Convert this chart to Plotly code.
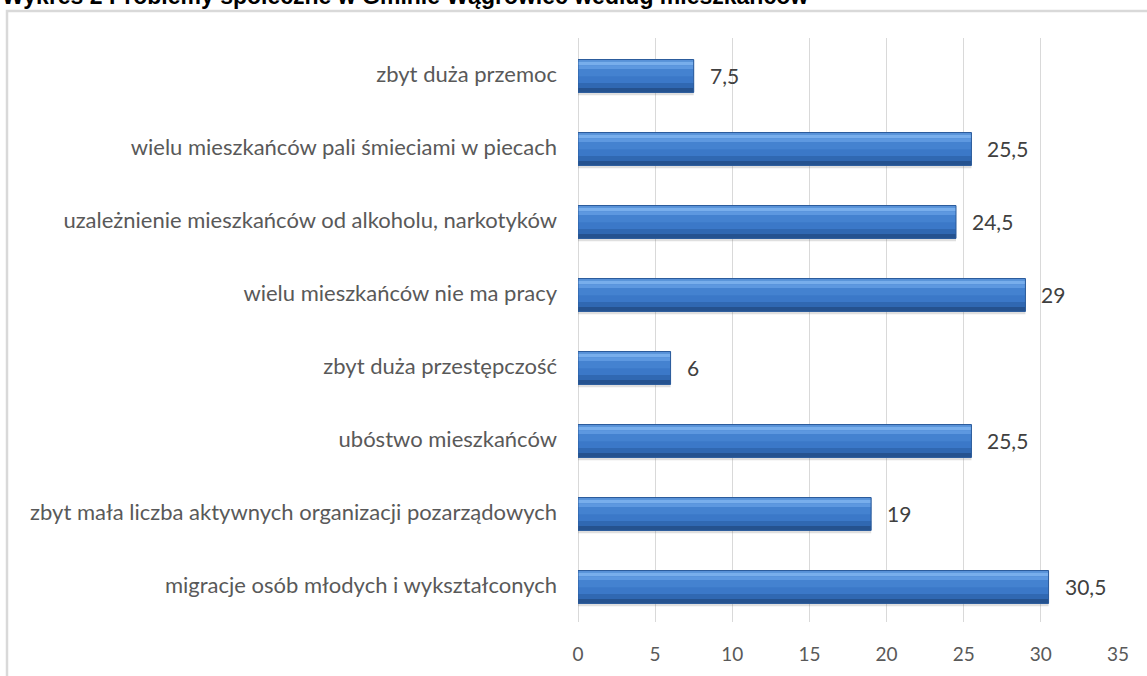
import plotly.graph_objects as go

categories = [
    "zbyt duża przemoc",
    "wielu mieszkańców pali śmieciami w piecach",
    "uzależnienie mieszkańców od alkoholu, narkotyków",
    "wielu mieszkańców nie ma pracy",
    "zbyt duża przestępczość",
    "ubóstwo mieszkańców",
    "zbyt mała liczba aktywnych organizacji pozarządowych",
    "migracje osób młodych i wykształconych",
]
values = [7.5, 25.5, 24.5, 29, 6, 25.5, 19, 30.5]
x_ticks = [0, 5, 10, 15, 20, 25, 30, 35]
title_text = "Wykres 2 Problemy społeczne w Gminie Wągrowiec według mieszkańców"

W, H = 1147, 676
ml, mr, mt, mb = 578, 29, 38, 54
pw, ph = W - ml - mr, H - mt - mb

fig = go.Figure()

B0 = -0.205  # top of bar (axis reversed: negative offset = upward)
BW = 0.45

# (offset from bar top, width, colour)
bands = [
    (0.0, BW, "#3B78C8"),
    (0.0, 0.03, "#5A93DA"),
    (0.03, 0.05, "#78AEEC"),
    (0.08, 0.05, "#5D98E0"),
    (0.13, 0.10, "#4482D0"),
    (0.32, 0.07, "#3068B2"),
    (0.39, 0.06, "#25528F"),
]

# shadow
fig.add_trace(go.Bar(y=categories, x=values, orientation="h", width=BW + 0.03, offset=B0 + 0.01,
                     marker=dict(color="rgba(110,110,110,0.22)", line=dict(width=0)),
                     hoverinfo="skip", showlegend=False))
for i, (o, w, col) in enumerate(bands):
    fig.add_trace(go.Bar(y=categories, x=values, orientation="h", width=w, offset=B0 + o,
                         marker=dict(color=col, line=dict(width=0)),
                         hoverinfo="skip" if i else None, showlegend=False))
# outline
fig.add_trace(go.Bar(y=categories, x=values, orientation="h", width=BW, offset=B0,
                     marker=dict(color="rgba(0,0,0,0)", line=dict(color="#2A5A9A", width=1)),
                     hoverinfo="skip", showlegend=False))

for c, v in zip(categories, values):
    fig.add_annotation(x=v, y=c, text=f"{v:g}".replace(".", ","), showarrow=False,
                       xanchor="left", xshift=14, yshift=-1,
                       font=dict(family="Lato", size=21, color="#404040"))

# title (clipped at top as in original)
fig.add_annotation(xref="paper", yref="paper", x=-ml / pw, y=1 + (mt - 11) / ph,
                   xanchor="left", yanchor="bottom", text=f"<b>{title_text}</b>", showarrow=False,
                   font=dict(family="Liberation Sans", size=23, color="#000000"))

# outer frame
fig.add_shape(type="rect", xref="paper", yref="paper",
              x0=-(ml - 7) / pw, x1=(pw + mr + 10) / pw,
              y0=-(mb + 10) / ph, y1=1 + (mt - 11) / ph,
              line=dict(color="#D9D9D9", width=2.5), layer="below")

fig.update_layout(
    width=W, height=H,
    margin=dict(l=ml, r=mr, t=mt, b=mb, pad=0),
    plot_bgcolor="white", paper_bgcolor="white",
    barmode="overlay",
    font=dict(family="Lato", size=16, color="#595959"),
    xaxis=dict(range=[0, 35], tickvals=x_ticks, showgrid=True, gridcolor="#D9D9D9", gridwidth=1,
               zeroline=True, zerolinecolor="#D9D9D9", zerolinewidth=1, showline=False,
               ticks="", tickfont=dict(size=19, color="#595959"), ticklabelstandoff=19),
    yaxis=dict(categoryorder="array", categoryarray=categories, autorange="reversed",
               showgrid=False, ticks="", ticklabelstandoff=20,
               tickfont=dict(size=22, color="#595959")),
)

fig.write_html("out.html", config={"displayModeBar": False},
               post_script="document.body.style.margin='0';document.body.style.overflow='hidden';")
